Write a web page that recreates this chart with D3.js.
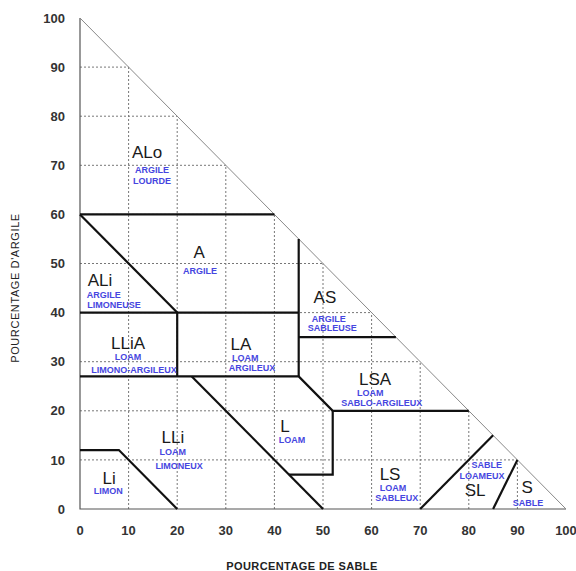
<!DOCTYPE html>
<html>
<head>
<meta charset="utf-8">
<script src="https://cdn.jsdelivr.net/npm/d3@7"></script>
<style>
  body { margin: 0; background: #fff; }
  text { font-family: Arial, "Liberation Sans", sans-serif; }
</style>
</head>
<body>
<div id="vis"></div>
<script>
// axis ticks (percent)
var ticks = [0, 10, 20, 30, 40, 50, 60, 70, 80, 90, 100];

// class boundaries, as [sand, clay] polylines
var boundaries = [
    [[0, 60], [40, 60]],
    [[0, 60], [20, 40]],
    [[0, 40], [45, 40]],
    [[45, 55], [45, 27]],
    [[45, 35], [65, 35]],
    [[20, 40], [20, 27]],
    [[0, 27], [45, 27], [52, 20], [80, 20]],
    [[52, 20], [52, 7], [43, 7]],
    [[23, 27], [50, 0]],
    [[0, 12], [8, 12], [20, 0]],
    [[70, 0], [85, 15]],
    [[85, 0], [90, 10]]
];

// class codes (big black) and names (small blue), placed at [sand, clay]
var codes = [
    ["ALo", 13.8, 72.7], ["A", 24.5, 52.3], ["ALi", 4.1, 46.6],
    ["LLiA", 9.9, 33.8], ["LA", 33.1, 33.6], ["AS", 50.4, 43.2],
    ["LSA", 60.7, 26.5], ["L", 42.2, 16.9], ["LLi", 19.1, 14.7],
    ["Li", 6.0, 6.3], ["LS", 63.8, 7.1], ["SL", 81.3, 3.9], ["S", 92.0, 4.4]
];
var names = [
    ["ARGILE", 14.8, 69.0], ["LOURDE", 14.8, 66.8],
    ["ARGILE", 24.7, 48.5],
    ["ARGILE", 4.9, 43.6], ["LIMONEUSE", 7.0, 41.5],
    ["LOAM", 9.9, 31.0], ["LIMONO-ARGILEUX", 11.1, 28.3],
    ["LOAM", 34.0, 30.9], ["ARGILEUX", 35.4, 28.7],
    ["ARGILE", 51.2, 38.8], ["SABLEUSE", 51.9, 36.9],
    ["LOAM", 59.7, 23.6], ["SABLO-ARGILEUX", 62.1, 21.6],
    ["LOAM", 43.6, 14.1],
    ["LOAM", 19.1, 11.6], ["LIMONEUX", 20.4, 8.8],
    ["LIMON", 5.8, 3.7],
    ["LOAM", 64.4, 4.3], ["SABLEUX", 65.2, 2.2],
    ["SABLE", 83.7, 9.0], ["LOAMEUX", 82.7, 6.7],
    ["SABLE", 92.2, 1.3]
];

var margin = {top: 18, right: 10, bottom: 62, left: 80},
    width = 576,
    height = 571,
    drawWidth = width - margin.left - margin.right,
    drawHeight = height - margin.top - margin.bottom;

var x = d3.scaleLinear().domain([0, 100]).range([0, drawWidth]);
var y = d3.scaleLinear().domain([0, 100]).range([drawHeight, 0]);

var svg = d3.select("#vis").append("svg")
    .attr("width", width)
    .attr("height", height);

var g = svg.append("g")
    .attr("transform", "translate(" + margin.left + "," + margin.top + ")");

// dotted grid, clipped to the triangle
var inner = ticks.filter(function(t) { return t > 0 && t < 100; });
g.selectAll(".vgrid").data(inner).enter().append("line")
    .attr("x1", function(d) { return x(d); })
    .attr("x2", function(d) { return x(d); })
    .attr("y1", y(0))
    .attr("y2", function(d) { return y(100 - d); })
    .attr("stroke", "#777").attr("stroke-width", 1).attr("stroke-dasharray", "2,2");
g.selectAll(".hgrid").data(inner).enter().append("line")
    .attr("y1", function(d) { return y(d); })
    .attr("y2", function(d) { return y(d); })
    .attr("x1", x(0))
    .attr("x2", function(d) { return x(100 - d); })
    .attr("stroke", "#777").attr("stroke-width", 1).attr("stroke-dasharray", "2,2");

// triangle outline
var line = d3.line()
    .x(function(d) { return x(d[0]); })
    .y(function(d) { return y(d[1]); });

g.append("path")
    .datum([[0, 100], [0, 0], [100, 0]])
    .attr("fill", "none").attr("stroke", "#555").attr("stroke-width", 1.2)
    .attr("d", line);
g.append("path")
    .datum([[0, 100], [100, 0]])
    .attr("fill", "none").attr("stroke", "#888").attr("stroke-width", 1)
    .attr("d", line);

// class boundaries
g.selectAll(".bound").data(boundaries).enter().append("path")
    .attr("fill", "none")
    .attr("stroke", "#111")
    .attr("stroke-width", 2.2)
    .attr("stroke-linejoin", "miter")
    .attr("d", line);

// tick labels
g.selectAll(".xt").data(ticks).enter().append("text")
    .attr("x", function(d) { return x(d); })
    .attr("y", drawHeight + 26)
    .attr("text-anchor", "middle")
    .attr("font-size", 13).attr("font-weight", "bold").attr("fill", "#333")
    .text(function(d) { return d; });
g.selectAll(".yt").data(ticks).enter().append("text")
    .attr("x", -15)
    .attr("y", function(d) { return y(d); })
    .attr("dy", "0.36em")
    .attr("text-anchor", "end")
    .attr("font-size", 13).attr("font-weight", "bold").attr("fill", "#333")
    .text(function(d) { return d; });

// axis titles
svg.append("text")
    .attr("x", 302).attr("y", 570)
    .attr("text-anchor", "middle")
    .attr("font-size", 11).attr("font-weight", "bold").attr("fill", "#222")
    .attr("letter-spacing", 0.4)
    .text("POURCENTAGE DE SABLE");
svg.append("text")
    .attr("transform", "translate(19,288) rotate(-90)")
    .attr("text-anchor", "middle")
    .attr("font-size", 11).attr("fill", "#222")
    .attr("letter-spacing", 0.6)
    .text("POURCENTAGE D'ARGILE");

// class labels
g.selectAll(".code").data(codes).enter().append("text")
    .attr("x", function(d) { return x(d[1]); })
    .attr("y", function(d) { return y(d[2]); })
    .attr("dy", "0.34em")
    .attr("text-anchor", "middle")
    .attr("font-size", 17).attr("fill", "#1a1a1a")
    .text(function(d) { return d[0]; });
g.selectAll(".name").data(names).enter().append("text")
    .attr("x", function(d) { return x(d[1]); })
    .attr("y", function(d) { return y(d[2]); })
    .attr("dy", "0.36em")
    .attr("text-anchor", "middle")
    .attr("font-size", 9).attr("font-weight", "bold").attr("fill", "#4646e0")
    .text(function(d) { return d[0]; })
</script>
</body>
</html>
